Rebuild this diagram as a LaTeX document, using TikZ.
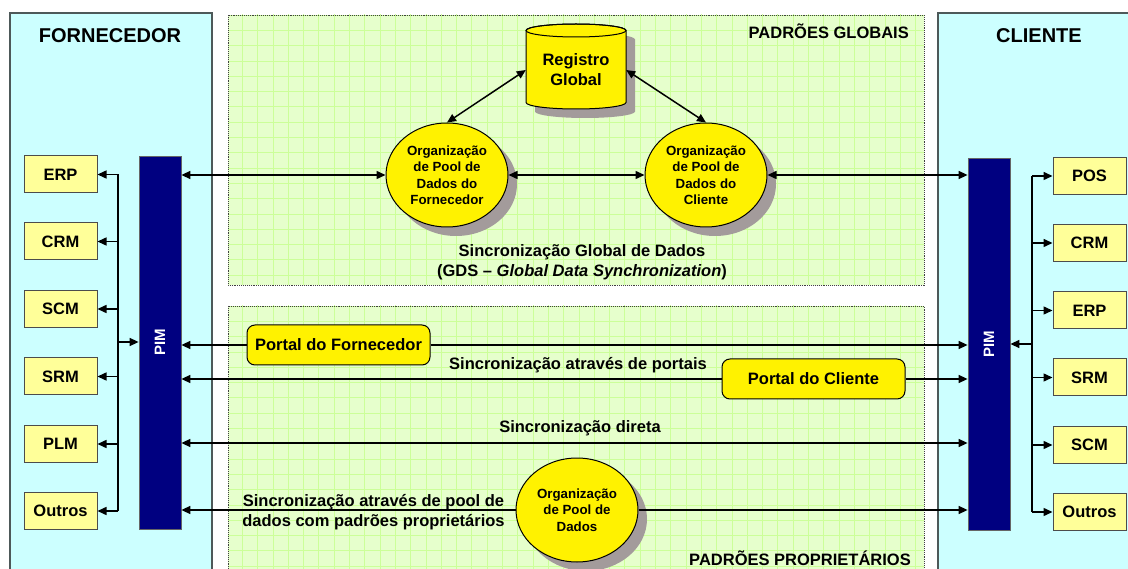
\documentclass[tikz,border=0pt]{standalone}
\usepackage{fontspec}
\setmainfont{Liberation Sans}
\usetikzlibrary{arrows.meta,shapes.geometric,shadows}
\definecolor{panelc}{HTML}{CCFFFF}
\definecolor{panelb}{HTML}{4D5959}
\definecolor{greenc}{HTML}{E6FFCC}
\definecolor{gridc}{HTML}{CCFF99}
\definecolor{boxc}{HTML}{FFFF99}
\definecolor{navyc}{HTML}{000080}
\definecolor{shadowc}{HTML}{A39B9B}
\newcommand{\bigfnt}{\fontsize{20}{24}\selectfont\bfseries}
\newcommand{\mainfnt}{\fontsize{16.5}{20}\selectfont\bfseries}
\newcommand{\smallfnt}{\fontsize{13.3}{16.5}\selectfont\bfseries}
\newcommand{\pimfnt}{\fontsize{15}{18}\selectfont\bfseries}
\tikzset{
  panel/.style={fill=panelc, draw=panelb, line width=1.2},
  zone/.style={draw=black!75, densely dotted, line width=0.9},
  sysbox/.style={draw=black!70, fill=boxc, line width=1, minimum width=73, minimum height=37, inner sep=0, font=\mainfnt},
  pimbar/.style={fill=navyc, draw=black!60, line width=0.8, minimum width=42, inner sep=0, text=white, font=\pimfnt},
  pool/.style={ellipse, draw=black, fill=yellow, line width=1, minimum width=122, minimum height=104, inner sep=0, align=center, font=\smallfnt,
    drop shadow={shadow xshift=9pt, shadow yshift=-9pt, fill=shadowc, opacity=1}},
  portal/.style={draw=black, fill=yellow, rounded corners=8, line width=1, minimum width=183, minimum height=40, inner sep=0, font=\mainfnt},
  lbl/.style={font=\mainfnt, inner sep=0, align=center},
  conn/.style={line width=1.5, -{Triangle[length=9,width=8]}},
  bi/.style={line width=1.5, {Triangle[length=9,width=8]}-{Triangle[length=9,width=8]}},
  plain/.style={line width=1.5}
}
\begin{document}
\begin{tikzpicture}[x=1pt,y=-1pt]
\useasboundingbox (0,0) rectangle (1128,569);
\clip (0,0) rectangle (1128,569);
\fill[white] (0,0) rectangle (1128,569);

% side panels
\draw[panel] (10,13) rectangle (212,600);
\draw[panel] (938,13) rectangle (1140,600);
\node[font=\bigfnt, inner sep=0] (tforn) at (110,36) {FORNECEDOR};
\node[font=\bigfnt, inner sep=0] (tcli) at (1039,36) {CLIENTE};

% green zones with grid
\begin{scope}
\clip (228,15) rectangle (924,285);
\fill[greenc] (228,15) rectangle (924,285);
\foreach \i in {0,...,46} \draw[gridc, line width=0.7] (227+\i*15.3,0) -- (227+\i*15.3,600);
\foreach \j in {0,...,40} \draw[gridc, line width=0.7] (200,15+\j*15.3) -- (950,15+\j*15.3);
\end{scope}
\draw[zone] (228,15) rectangle (924,285);
\begin{scope}
\clip (228,306) rectangle (924,600);
\fill[greenc] (228,306) rectangle (924,600);
\foreach \i in {0,...,46} \draw[gridc, line width=0.7] (227+\i*15.3,0) -- (227+\i*15.3,600);
\foreach \j in {0,...,40} \draw[gridc, line width=0.7] (200,306+\j*15.3) -- (950,306+\j*15.3);
\end{scope}
\draw[zone] (228,306) rectangle (924,600);

\node[font=\mainfnt, inner sep=0, anchor=east] (tglob) at (909,31) {PADRÕES GLOBAIS};
\node[font=\mainfnt, inner sep=0, anchor=east] (tprop) at (911,558) {PADRÕES PROPRIETÁRIOS};

% registro global cylinder
\fill[shadowc] (535,39.5) -- (535,111.5) arc[start angle=180, end angle=0, x radius=50, y radius=6.5] -- (635,39.5) arc[start angle=0, end angle=-180, x radius=50, y radius=6.5] -- cycle;
\filldraw[fill=yellow, draw=black, line width=1] (526,30.5) -- (526,102.5) arc[start angle=180, end angle=0, x radius=50, y radius=6.5] -- (626,30.5) arc[start angle=0, end angle=-180, x radius=50, y radius=6.5] -- cycle;
\draw[line width=1] (576,30.5) ellipse [x radius=50, y radius=6.5];
\node[lbl, minimum width=100, minimum height=85] (reg) at (576,70) {Registro\\Global};

% pool ellipses
\node[pool] (of) at (447,175) {Organização\\de Pool de\\Dados do\\Fornecedor};
\node[pool] (oc) at (706,175) {Organização\\de Pool de\\Dados do\\Cliente};
\node[pool] (op) at (577,510) {Organização\\de Pool de\\Dados};

\node[lbl] (gds) at (582,262) {Sincronização Global de Dados\\(GDS -- \textit{Global Data Synchronization})};

% PIM bars
\node[pimbar, minimum height=373] (piml) at (160,342.5) {\rotatebox{90}{PIM}};
\node[pimbar, minimum height=372] (pimr) at (989,344) {\rotatebox{90}{PIM}};

% left systems
\node[sysbox] (lerp) at (60.5,174.5) {ERP};
\node[sysbox] (lcrm) at (60.5,241.5) {CRM};
\node[sysbox] (lscm) at (60.5,309) {SCM};
\node[sysbox] (lsrm) at (60.5,376.5) {SRM};
\node[sysbox] (lplm) at (60.5,444) {PLM};
\node[sysbox] (lout) at (60.5,511) {Outros};
% right systems
\node[sysbox] (rpos) at (1089.5,176) {POS};
\node[sysbox] (rcrm) at (1089.5,243) {CRM};
\node[sysbox] (rerp) at (1089.5,310.5) {ERP};
\node[sysbox] (rsrm) at (1089.5,377.5) {SRM};
\node[sysbox] (rscm) at (1089.5,445) {SCM};
\node[sysbox] (rout) at (1089.5,512) {Outros};

% left bus
\coordinate (lbus) at (118,342);
\draw[plain] (lbus |- lerp.east) -- (lbus |- lout.east);
\foreach \b in {lerp,lcrm,lscm,lsrm,lplm,lout} \draw[conn] (lbus |- \b.east) -- (\b.east);
\draw[conn] (lbus) -- (piml.west |- lbus);
% right bus
\coordinate (rbus) at (1032,344);
\draw[plain] (rbus |- rpos.west) -- (rbus |- rout.west);
\foreach \b in {rpos,rcrm,rerp,rsrm,rscm,rout} \draw[conn] (rbus |- \b.west) -- (\b.west);
\draw[conn] (rbus) -- (pimr.east |- rbus);

% global sync arrows
\draw[bi] (piml.east |- of.west) -- (of.west);
\draw[bi] (of.east) -- (oc.west);
\draw[bi] (oc.east) -- (pimr.west |- oc.east);
\draw[bi] (reg.west) -- (of.north);
\draw[bi] (reg.east) -- (oc.north);

% portals
\node[portal] (pf) at (338.5,345) {Portal do Fornecedor};
\node[portal] (pc) at (813.5,379) {Portal do Cliente};
\draw[conn] (pf.west) -- (piml.east |- pf.west);
\draw[conn] (pf.east) -- (pimr.west |- pf.east);
\draw[conn] (pc.west) -- (piml.east |- pc.west);
\draw[conn] (pc.east) -- (pimr.west |- pc.east);
\node[lbl] (tport) at (578,365) {Sincronização através de portais};

% direct
\coordinate (sd) at (575,443);
\draw[bi] (piml.east |- sd) -- (pimr.west |- sd);
\node[lbl] (tdir) at (580,428) {Sincronização direta};

% proprietary pool
\draw[conn] (op.west) -- (piml.east |- op.west);
\draw[conn] (op.east) -- (pimr.west |- op.east);
\node[lbl] (tpool) at (373.5,512) {Sincronização através de pool de\\dados com padrões proprietários};
\end{tikzpicture}
\end{document}
